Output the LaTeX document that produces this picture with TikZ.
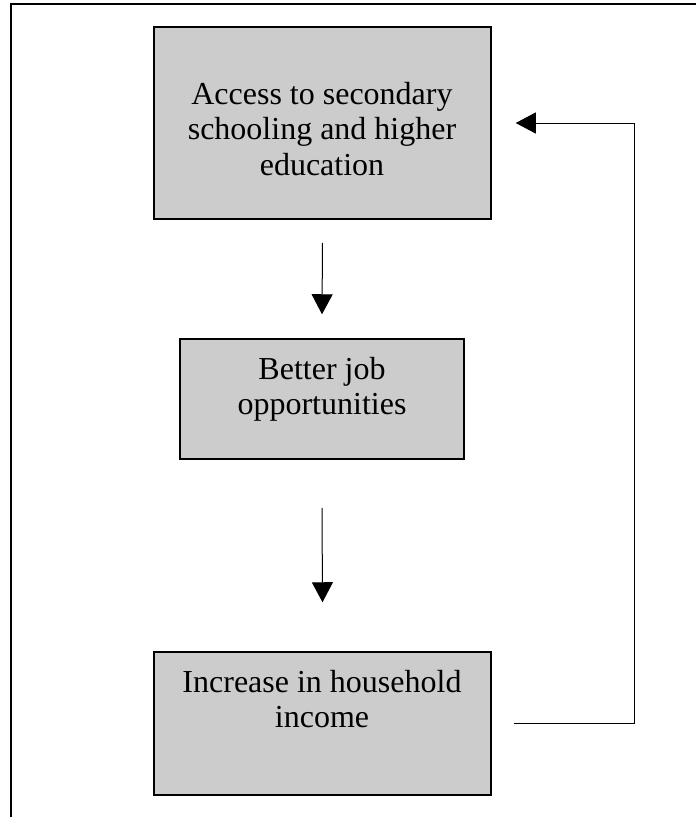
\documentclass[tikz,border=0pt]{standalone}
\usepackage{fontspec}
\setmainfont{Liberation Serif}
\usetikzlibrary{arrows.meta,calc}
\begin{document}
\begin{tikzpicture}[x=1pt,y=-1pt,
  box/.style={draw=black, line width=1.5pt, fill={rgb,255:red,204;green,204;blue,204}, rectangle, inner sep=0pt},
  lbl/.style={align=center, anchor=base, inner sep=0pt, font=\fontsize{32}{35.5}\selectfont},
  conn/.style={line width=1pt, -{Triangle[width=21pt,length=20pt]}},
  frame/.style={line width=1.8pt}]
\useasboundingbox (0,0) rectangle (696,817);
% outer frame (top and left only)
\draw[frame] (11,817) -- (11,4) -- (696,4);
% boxes
\node[box, minimum width=337pt, minimum height=192pt] (b1) at (322.5,123) {};
\node[box, minimum width=284pt, minimum height=120pt] (b2) at (322,399) {};
\node[box, minimum width=337pt, minimum height=143pt] (b3) at (322.5,723.5) {};
% labels (anchor = baseline of last line)
\node[lbl] (t1) at (322,175) {Access to secondary\\schooling and higher\\education};
\node[lbl] (t2) at (322,414.5) {Better job\\opportunities};
\node[lbl] (t3) at (322,727.5) {Increase in household\\income};
% connector end points
\coordinate (a1s) at ($(b1.south)+(0,23)$);
\coordinate (a1e) at ($(b2.north)+(0,-24)$);
\coordinate (a2s) at ($(b2.south)+(0,48)$);
\coordinate (a2e) at ($(b3.north)+(0,-49)$);
\coordinate (fs) at ($(b3.east)+(22,0)$);
\coordinate (fc1) at (634,723.5);
\coordinate (fc2) at (634,123);
\coordinate (fe) at ($(b1.east)+(24,0)$);
% connectors
\draw[conn] (a1s) -- (a1e);
\draw[conn] (a2s) -- (a2e);
\draw[conn] (fs) -- (fc1) -- (fc2) -- (fe);
\end{tikzpicture}
\end{document}
